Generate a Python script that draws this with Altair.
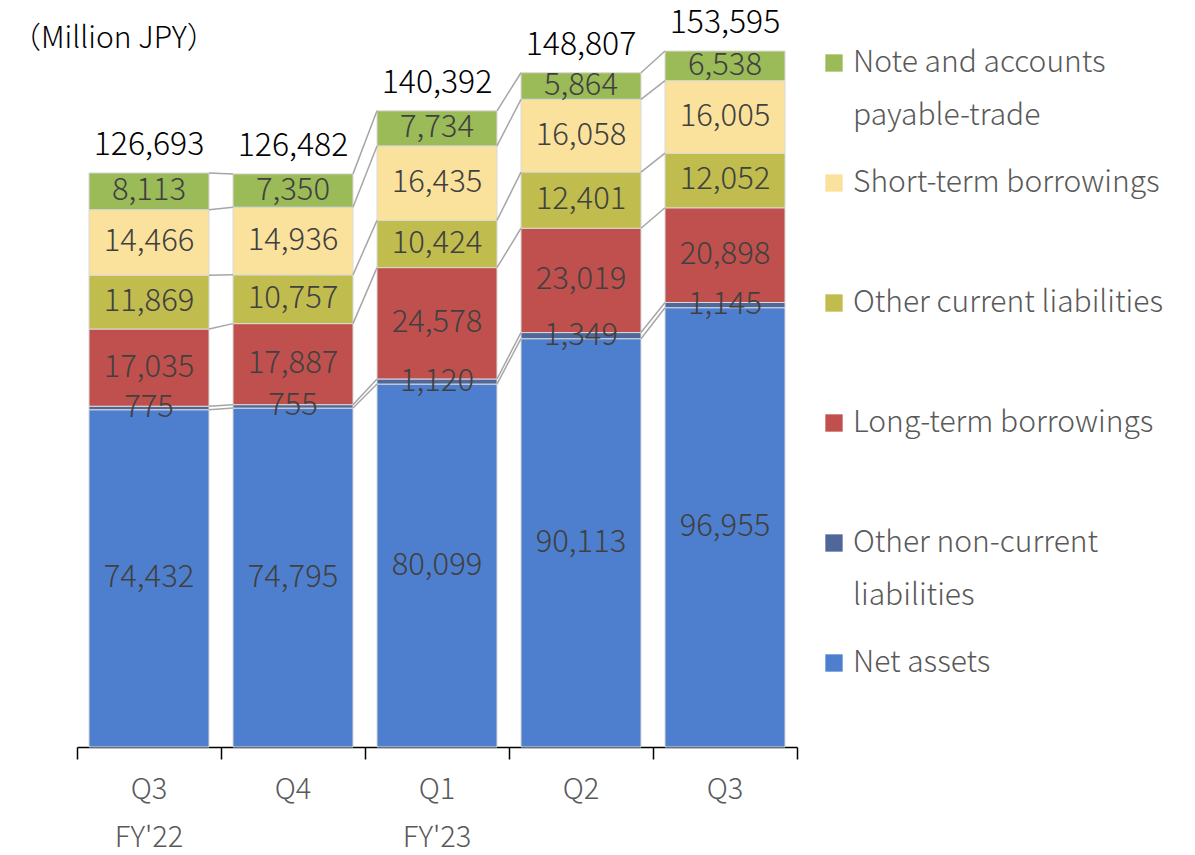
import altair as alt
import pandas as pd

quarters = ["Q3", "Q4", "Q1", "Q2", "Q3"]
fiscal_years = ["FY'22", "", "FY'23", "", ""]
series = ["Net assets", "Other non-current liabilities", "Long-term borrowings",
          "Other current liabilities", "Short-term borrowings", "Note and accounts payable-trade"]
legend_labels = ["Net assets", "Other non-current\nliabilities", "Long-term borrowings",
                 "Other current liabilities", "Short-term borrowings", "Note and accounts\npayable-trade"]
colors = ["#4E7FCE", "#4F6799", "#C0504D", "#C0BC4E", "#FBE29C", "#9BBB59"]

net_assets = [74432, 74795, 80099, 90113, 96955]
other_noncurrent = [775, 755, 1120, 1349, 1145]
long_term = [17035, 17887, 24578, 23019, 20898]
other_current = [11869, 10757, 10424, 12401, 12052]
short_term = [14466, 14936, 16435, 16058, 16005]
payables = [8113, 7350, 7734, 5864, 6538]
totals = [126693, 126482, 140392, 148807, 153595]

values = [net_assets, other_noncurrent, long_term, other_current, short_term, payables]

W, H = 720, 725
YMAX = 160000
HALF = 120 / 144 / 2

rows = []
for i in range(len(quarters)):
    cum = 0
    for s, name in enumerate(series):
        v = values[s][i]
        rows.append({"idx": i, "series": name, "order": s, "y0": cum, "y1": cum + v,
                     "mid": cum + v / 2, "label": f"{v:,}",
                     "x0": i - HALF, "x1": i + HALF})
        cum += v
seg = pd.DataFrame(rows)

conn_rows = []
for i in range(len(quarters) - 1):
    c0 = 0
    c1 = 0
    for s in range(len(series)):
        c0 += values[s][i]
        c1 += values[s][i + 1]
        conn_rows.append({"xa": i + HALF, "xb": i + 1 - HALF, "ya": c0, "yb": c1})
conn = pd.DataFrame(conn_rows)

tot = pd.DataFrame({"idx": list(range(len(quarters))), "total": totals,
                    "label": [f"{t:,}" for t in totals]})

cat = pd.DataFrame({"idx": list(range(len(quarters))), "q": quarters, "fy": fiscal_years})

FONT = "Noto Sans CJK JP"
xs = alt.Scale(domain=[-0.5, len(quarters) - 0.5], nice=False, zero=False)
ys = alt.Scale(domain=[0, YMAX], nice=False)
xaxis = alt.Axis(values=[i - 0.5 for i in range(len(quarters) + 1)], labels=False,
                 grid=False, tickSize=12, tickColor="#000000", domainColor="#000000",
                 tickWidth=1.5, domainWidth=1.5, title=None)

bars = alt.Chart(seg).mark_rect(stroke="#D9D9D9", strokeWidth=1).encode(
    x=alt.X("x0:Q", scale=xs, axis=xaxis),
    x2="x1:Q",
    y=alt.Y("y0:Q", scale=ys, axis=None),
    y2="y1:Q",
    color=alt.Color("series:N", scale=alt.Scale(domain=series, range=colors), legend=None),
)

lines = alt.Chart(conn).mark_rule(color="#A6A6A6", strokeWidth=1.5).encode(
    x=alt.X("xa:Q", scale=xs, axis=xaxis), x2="xb:Q",
    y=alt.Y("ya:Q", scale=ys, axis=None), y2="yb:Q",
)

seg_labels = alt.Chart(seg).mark_text(font=FONT, fontSize=31, fontWeight=300, color="#404040",
                                      baseline="middle").encode(
    x=alt.X("idx:Q", scale=xs, axis=xaxis), y=alt.Y("mid:Q", scale=ys, axis=None), text="label:N")

tot_labels = alt.Chart(tot).mark_text(font=FONT, fontSize=32, fontWeight=300, color="#000000",
                                      baseline="middle", dy=-28).encode(
    x=alt.X("idx:Q", scale=xs, axis=xaxis), y=alt.Y("total:Q", scale=ys, axis=None), text="label:N")

q_labels = alt.Chart(cat).mark_text(font=FONT, fontSize=29, fontWeight=300, color="#595959",
                                    baseline="middle").encode(
    x=alt.X("idx:Q", scale=xs, axis=xaxis), y=alt.value(H + 43), text="q:N")

fy_labels = alt.Chart(cat).mark_text(font=FONT, fontSize=29, fontWeight=300, color="#595959",
                                     baseline="middle").encode(
    x=alt.X("idx:Q", scale=xs, axis=xaxis), y=alt.value(H + 91), text="fy:N")

unit = alt.Chart(pd.DataFrame({"t": ["（Million JPY）"]})).mark_text(
    font=FONT, fontSize=30, fontWeight=300, color="#000000", align="left", baseline="middle").encode(
    x=alt.value(-66), y=alt.value(17), text="t:N")

# legend (top entry = last series)
leg_order = list(range(len(series)))[::-1]
leg = pd.DataFrame({
    "series": [series[s] for s in leg_order],
    "text": [legend_labels[s] for s in leg_order],
    "pos": list(range(len(series))),
})
leg_scale = alt.Scale(domain=[0, len(series) - 1], range=[41, 41 + 120 * (len(series) - 1)])
leg_sq = alt.Chart(leg).mark_square(size=300, opacity=1).encode(
    x=alt.value(757),
    y=alt.Y("pos:Q", scale=leg_scale, axis=None),
    color=alt.Color("series:N", scale=alt.Scale(domain=series, range=colors), legend=None),
)
leg_txt = alt.Chart(leg).mark_text(font=FONT, fontSize=30, fontWeight=300, color="#595959", align="left",
                                   baseline="middle", lineBreak="\n", lineHeight=53).encode(
    x=alt.value(776),
    y=alt.Y("pos:Q", scale=leg_scale, axis=None),
    text="text:N",
)

chart = alt.layer(bars, lines, seg_labels, tot_labels, q_labels, fy_labels, unit, leg_sq, leg_txt).resolve_scale(
    y="independent"
).properties(
    width=W, height=H,
    background="#FFFFFF",
    autosize=alt.AutoSizeParams(type="none"),
    padding={"left": 77, "top": 22, "right": 1195 - 77 - W, "bottom": 855 - 22 - H},
).configure_view(stroke=None, strokeWidth=0)

chart.save("out.html", embed_options={"renderer": "svg", "actions": False})
